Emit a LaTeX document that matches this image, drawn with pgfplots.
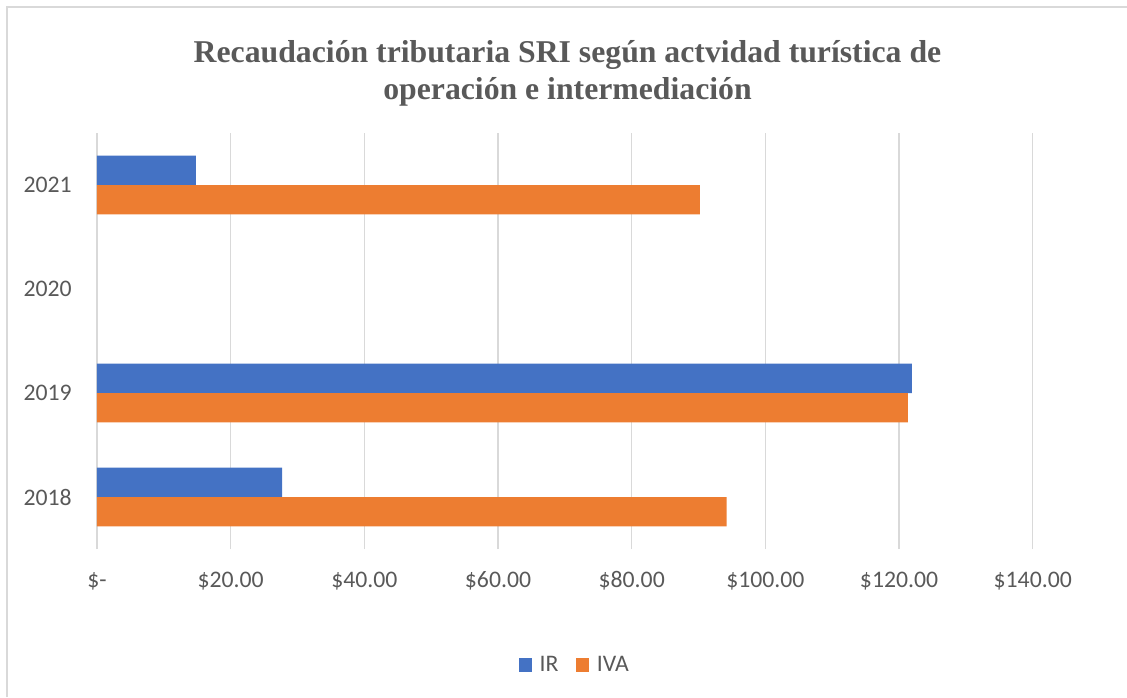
\documentclass[border=0pt]{standalone}
\usepackage{pgfplots}
\pgfplotsset{compat=1.18}
\usepackage{fontspec}
\setmainfont{Carlito}
\newfontfamily\titlefont{Liberation Serif}

\definecolor{irblue}{HTML}{4472C4}
\definecolor{ivaorange}{HTML}{ED7D31}
\definecolor{gridgray}{HTML}{D9D9D9}
\definecolor{textgray}{HTML}{595959}

\newcommand{\lbl}{\fontsize{17.8}{20}\selectfont}

\begin{document}
\begin{tikzpicture}[x=0.75pt,y=-0.75pt]
% page = 1127 x 697 px
\useasboundingbox (0,0) rectangle (1127,697);
% chart frame (only top and left edges visible)
\draw[gridgray, line width=1.1pt] (7,697) -- (7,7) -- (1127,7);

% title
\node[anchor=base, text=textgray, font={\titlefont\bfseries\fontsize{23.8}{28}\selectfont}] at (567.5,62)
  {Recaudación tributaria SRI según actvidad turística de};
\node[anchor=base, text=textgray, font={\titlefont\bfseries\fontsize{23.8}{28}\selectfont}] at (567.5,99)
  {operación e intermediación};

\begin{axis}[
    at={(72.75pt,-411.75pt)}, anchor=south west,
    scale only axis,
    width=701.8pt, height=312pt,
    xbar,
    bar width=22.1pt,
    xmin=0, xmax=140,
    ymin=-0.5, ymax=3.5,
    xtick={0,20,40,60,80,100,120,140},
    xticklabels={\$-, \$20.00, \$40.00, \$60.00, \$80.00, \$100.00, \$120.00, \$140.00},
    ytick={0,1,2,3},
    yticklabels={2018,2019,2020,2021},
    xmajorgrids,
    ymajorgrids=false,
    major grid style={gridgray, line width=1.1pt},
    axis line style={draw=none},
    major tick length=0pt,
    tick style={draw=none},
    xticklabel style={font=\lbl, text=textgray, anchor=base, inner sep=0pt, yshift=-28.9pt},
    yticklabel style={font=\lbl, text=textgray, anchor=east, inner sep=0pt, xshift=-18.75pt},
    legend columns=2,
    legend style={at={(0.511,-0.279)}, anchor=center, draw=none, fill=none,
                  font=\lbl, text=textgray, inner sep=0pt,
                  /tikz/every even column/.append style={column sep=11pt}},
    legend image code/.code={\fill[#1] (0pt,-5pt) rectangle (10pt,5pt);
                             \path (13.75pt,0pt);},
]
\addplot[fill=irblue, draw=none, bar shift=11.05pt] coordinates {
    (27.7,0) (121.9,1) (14.8,3)
};
\addplot[fill=ivaorange, draw=none, bar shift=-11.05pt] coordinates {
    (94.2,0) (121.3,1) (90.2,3)
};
\legend{IR, IVA}
\end{axis}
\end{tikzpicture}
\end{document}
